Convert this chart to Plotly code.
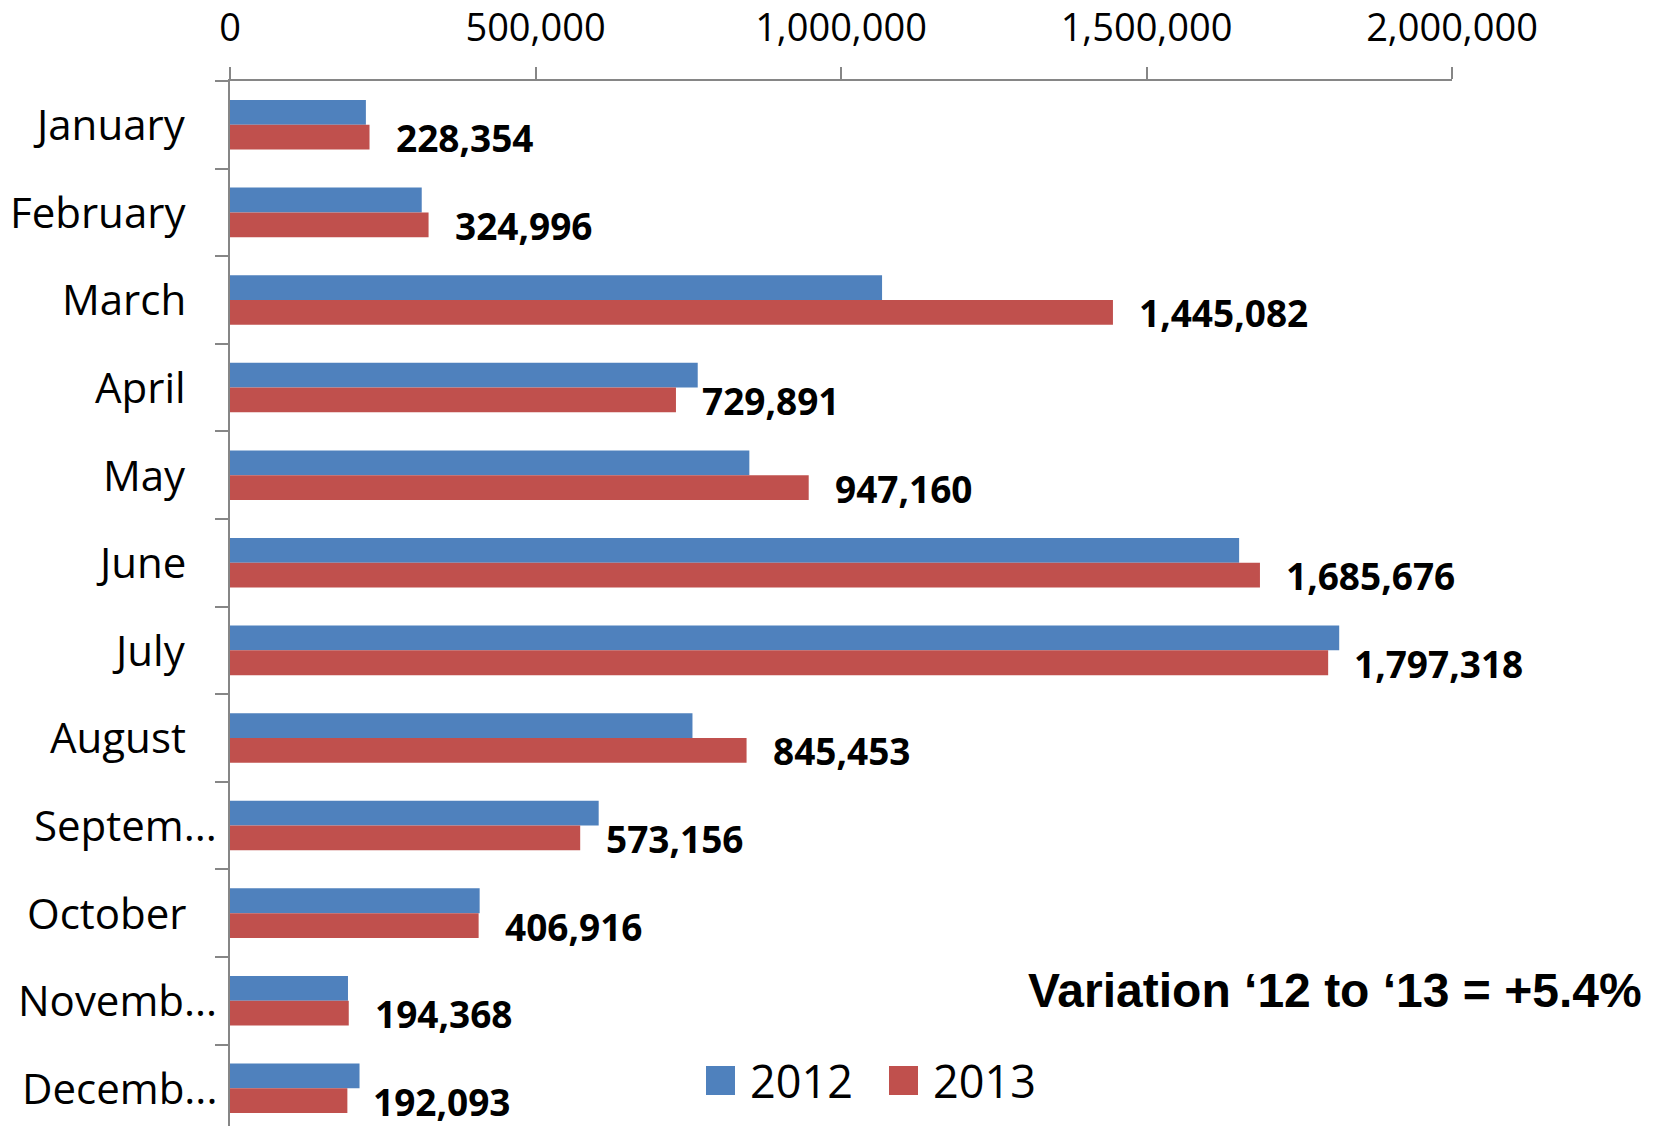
import plotly.graph_objects as go

months = ["January", "February", "March", "April", "May", "June", "July",
          "August", "September", "October", "November", "December"]
month_ticktext = ["January", "February", "March", "April", "May", "June", "July",
                  "August", "Septem...", "October", "Novemb...", "Decemb..."]
values_2012 = [222400, 313800, 1067200, 765500, 850000, 1651600, 1815400,
               756900, 603400, 408600, 193100, 212000]
values_2013 = [228354, 324996, 1445082, 729891, 947160, 1685676, 1797318,
               845453, 573156, 406916, 194368, 192093]
x_tickvals = [0, 500000, 1000000, 1500000, 2000000]
series_names = ["2012", "2013"]
series_colors = ["#4F81BD", "#C0504D"]
note_text = "Variation ‘12 to ‘13 = +5.4%"

W, H = 1654, 1126
ML, MR, MT, MB = 230, 202, 81, 0
PW, PH = W - ML - MR, H - MT - MB


def px_x(p):
    return (p - ML) / PW


def px_y(p):
    return (H - MB - p) / PH


fig = go.Figure()
for name, vals, col in zip(series_names, [values_2012, values_2013], series_colors):
    fig.add_trace(go.Bar(
        y=months, x=vals, orientation="h", name=name,
        marker=dict(color=col, line=dict(width=0)),
        showlegend=False,
    ))

# month labels (truncated ones sit closer to the axis, as in the original)
for m, lab in zip(months, month_ticktext):
    right_px = 219 if lab.endswith("...") else 188
    fig.add_annotation(
        x=px_x(right_px), y=m, xref="paper", yref="y", text=lab,
        showarrow=False, xanchor="right", yanchor="middle", yshift=1,
        font=dict(family="Open Sans", size=42, color="black"),
    )

# data labels for 2013
for m, v in zip(months, values_2013):
    fig.add_annotation(
        x=v, y=m, xref="x", yref="y", text=f"<b>{v:,}</b>",
        showarrow=False, xanchor="left", yanchor="middle",
        xshift=24, yshift=-13,
        font=dict(family="Open Sans", size=37, color="black"),
    )

# note
fig.add_annotation(
    x=px_x(1644), y=px_y(990), xref="paper", yref="paper",
    text=f"<b>{note_text}</b>", showarrow=False,
    xanchor="right", yanchor="middle",
    font=dict(family="Liberation Sans", size=48, color="black"),
)

# custom legend
legend_marker_x = [706, 889]
for name, col, lx in zip(series_names, series_colors, legend_marker_x):
    fig.add_shape(type="rect", xref="paper", yref="paper",
                  x0=px_x(lx), x1=px_x(lx + 29), y0=px_y(1095), y1=px_y(1066),
                  fillcolor=col, line=dict(width=0))
    fig.add_annotation(x=px_x(lx + 42), y=px_y(1080), xref="paper", yref="paper",
                       text=name, showarrow=False, xanchor="left", yanchor="middle",
                       font=dict(family="Open Sans", size=45, color="black"))

axis_col = "#868686"
fig.update_layout(
    width=W, height=H,
    margin=dict(l=ML, r=MR, t=MT, b=MB, pad=0, autoexpand=False),
    paper_bgcolor="white", plot_bgcolor="white",
    barmode="group", bargap=0.434, bargroupgap=0,
    xaxis=dict(
        side="top", range=[0, 2000000], tickvals=x_tickvals,
        tickformat=",", showgrid=False, zeroline=False, automargin=False,
        showline=True, linecolor=axis_col, linewidth=2,
        ticks="outside", ticklen=12, tickcolor=axis_col, tickwidth=2,
        tickfont=dict(family="Open Sans", size=38, color="black"),
        ticklabelstandoff=11,
    ),
    yaxis=dict(
        type="category", categoryorder="array", categoryarray=months,
        showticklabels=False, automargin=False,
        range=[11.43, -0.5], showgrid=False, zeroline=False,
        showline=True, linecolor=axis_col, linewidth=2,
        ticks="outside", tickson="boundaries", ticklen=13,
        tickcolor=axis_col, tickwidth=2,
    ),
    showlegend=False,
)

fig.write_html("out.html")
